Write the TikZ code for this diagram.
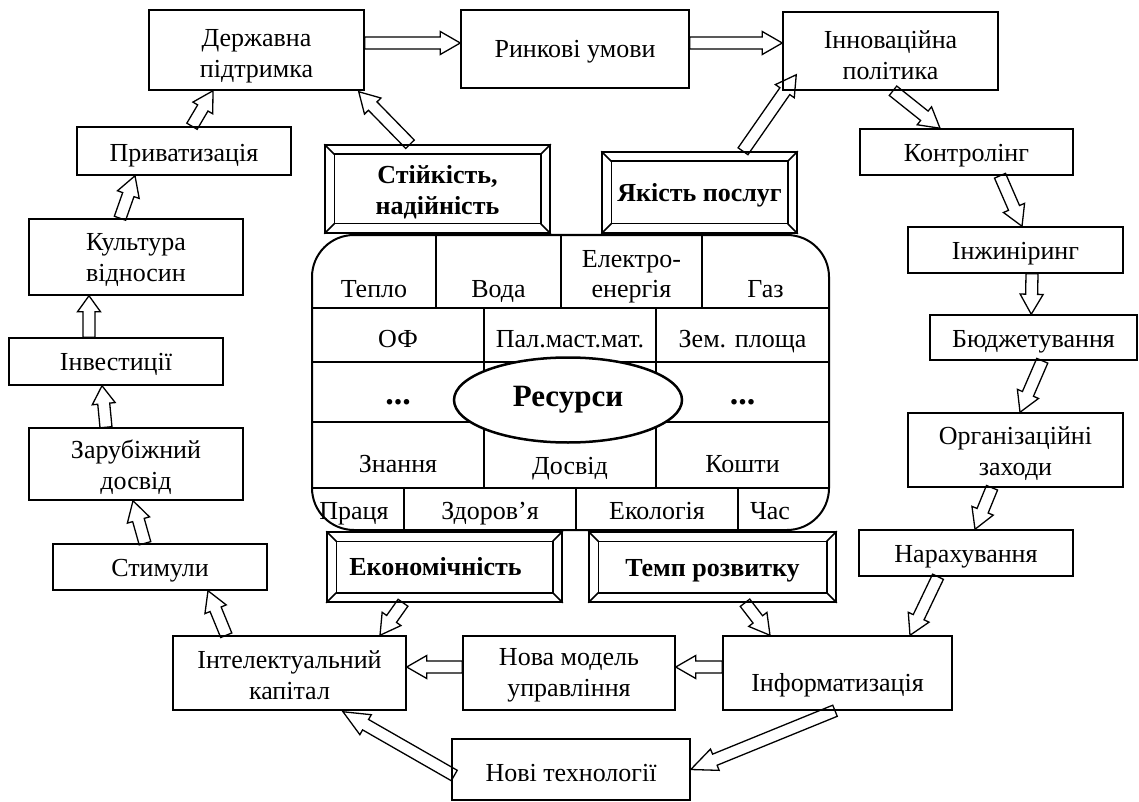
\documentclass[tikz,border=0pt]{standalone}
\usepackage{fontspec}
\setmainfont{Liberation Serif}
\usetikzlibrary{calc,shapes.geometric}
\tikzset{
 box/.style={draw, line width=1.5pt, inner sep=0pt},
 txt/.style={inner sep=0pt, align=center, font=\fontsize{26}{31}\selectfont},
 btxt/.style={inner sep=0pt, align=center, font=\fontsize{26}{31}\selectfont\bfseries},
 bl/.style={line width=1.5pt},
 arr/.style={line width=1.3pt, line join=miter},
 cell/.style={inner sep=0pt, anchor=base, font=\fontsize{26}{31}\selectfont},
 dots/.style={inner sep=0pt, anchor=base, font=\fontsize{34}{38}\selectfont\bfseries},
 gridline/.style={line width=1.5pt},
}
\def\hAsw{6pt}
\def\hAhw{11.5pt}
\newcommand\harrow[3][20pt]{%
  \path (#2) coordinate (hA) (#3) coordinate (hB);
  \draw[arr] ($(hA)!\hAsw!90:(hB)$)
   -- ($(hB)!#1!(hA)!\hAsw!-90:(hA)$)
   -- ($(hB)!#1!(hA)!\hAhw!-90:(hA)$)
   -- (hB)
   -- ($(hB)!#1!(hA)!\hAhw!90:(hA)$)
   -- ($(hB)!#1!(hA)!\hAsw!90:(hA)$)
   -- ($(hA)!\hAsw!-90:(hB)$) -- cycle;}
\newcommand\bevel[1]{%
 \draw[bl] ([shift={(10pt,-10pt)}]#1.north west) rectangle ([shift={(-10pt,10pt)}]#1.south east);
 \draw[bl] (#1.north west) -- ([shift={(10pt,-10pt)}]#1.north west)
   (#1.north east) -- ([shift={(-10pt,-10pt)}]#1.north east)
   (#1.south west) -- ([shift={(10pt,10pt)}]#1.south west)
   (#1.south east) -- ([shift={(-10pt,10pt)}]#1.south east);}
\begin{document}
\begin{tikzpicture}[x=1pt,y=-1pt]
\useasboundingbox (0,0) rectangle (1139,802);
% top row
\node[box,minimum width=215pt,minimum height=80pt] (dp) at (256.5,50) {};
\node[txt] (dpt) at ($(dp)+(0,6)$) {Державна\\підтримка};
\node[box,minimum width=228pt,minimum height=78pt] (ru) at (575,49) {};
\node[txt] (rut) at ($(ru)+(0,3)$) {Ринкові умови};
\node[box,minimum width=215pt,minimum height=78pt] (ip) at (890.5,51) {};
\node[txt] (ipt) at ($(ip)+(0,4)$) {Інноваційна\\політика};
% left column
\node[box,minimum width=214pt,minimum height=48pt] (pr) at (184,151) {};
\node[txt] (prt) at ($(pr)+(0,5)$) {Приватизація};
\node[box,minimum width=214pt,minimum height=76pt] (ku) at (136,257) {};
\node[txt] (kut) at ($(ku)+(0,3)$) {Культура\\відносин};
\node[box,minimum width=214pt,minimum height=47pt] (iv) at (116,361.5) {};
\node[txt] (ivt) at ($(iv)+(0,3)$) {Інвестиції};
\node[box,minimum width=214pt,minimum height=72pt] (zd) at (136,464) {};
\node[txt] (zdt) at ($(zd)+(0,3)$) {Зарубіжний\\досвід};
\node[box,minimum width=214pt,minimum height=46pt] (st) at (160,567) {};
\node[txt] (stt) at ($(st)+(0,4)$) {Стимули};
% bottom row
\node[box,minimum width=233pt,minimum height=74pt] (ik) at (289.5,673) {};
\node[txt] (ikt) at ($(ik)+(0,2)$) {Інтелектуальний\\капітал};
\node[box,minimum width=212pt,minimum height=74pt] (nm) at (569,673) {};
\node[txt] (nmt) at ($(nm)+(0,2)$) {Нова модель\\управління};
\node[box,minimum width=229pt,minimum height=74pt] (inf) at (837.5,673) {};
\node[txt] (inft) at ($(inf)+(0,12)$) {Інформатизація};
\node[box,minimum width=238pt,minimum height=61pt] (nt) at (571,769.5) {};
\node[txt] (ntt) at ($(nt)+(0,4)$) {Нові технології};
% right column
\node[box,minimum width=213pt,minimum height=46pt] (ko) at (966.5,152) {};
\node[txt] (kot) at ($(ko)+(0,4)$) {Контролінг};
\node[box,minimum width=215pt,minimum height=46pt] (ig) at (1015.5,250) {};
\node[txt] (igt) at ($(ig)+(0,4)$) {Інжиніринг};
\node[box,minimum width=207pt,minimum height=45pt] (bu) at (1033.5,337.5) {};
\node[txt] (but) at ($(bu)+(0,4)$) {Бюджетування};
\node[box,minimum width=215pt,minimum height=74pt] (oz) at (1015.5,450) {};
\node[txt] (ozt) at ($(oz)+(0,4)$) {Організаційні\\заходи};
\node[box,minimum width=214pt,minimum height=46pt] (na) at (966,553) {};
\node[txt] (nat) at ($(na)+(0,4)$) {Нарахування};
% bevelled boxes
\node[box,minimum width=225pt,minimum height=88pt] (sn) at (437.5,189) {};
\node[btxt] (snt) at ($(sn)+(0,3)$) {Стійкість,\\надійність};
\node[box,minimum width=195pt,minimum height=81pt] (yp) at (699.5,192.5) {};
\node[btxt] (ypt) at ($(yp)+(0,3)$) {Якість послуг};
\node[box,minimum width=235pt,minimum height=70pt] (ek) at (444.5,567) {};
\node[btxt] (ekt) at ($(ek)+(-9,0)$) {Економічність};
\node[box,minimum width=247pt,minimum height=70pt] (tr) at (712.5,567) {};
\node[btxt] (trt) at ($(tr)+(0,4)$) {Темп розвитку};
\bevel{sn}\bevel{yp}\bevel{ek}\bevel{tr}
% central table
\draw[line width=2pt, rounded corners=42pt] (312,235) rectangle (829,530);
\draw[gridline] (312,308) -- (829,308) (312,362) -- (829,362) (312,422) -- (829,422) (312,488) -- (829,488);
\draw[gridline] (436,235) -- (436,308) (561,235) -- (561,308) (702,235) -- (702,308)
  (484,308) -- (484,488) (656,308) -- (656,488)
  (404,488) -- (404,530) (576,488) -- (576,530) (738,488) -- (738,530);
\node[draw, ellipse, fill=white, line width=2.5pt, minimum width=228pt, minimum height=85pt, inner sep=0pt] (res) at (568,400) {\fontsize{31}{35}\selectfont\bfseries Ресурси};
\node[cell] (c1) at (374,297) {Тепло};
\node[cell] (c2) at (498.5,297) {Вода};
\node[cell] (c3a) at (631.5,267) {Електро-};
\node[cell] (c3b) at (631.5,297) {енергія};
\node[cell] (c4) at (765.5,297) {Газ};
\node[cell] (c5) at (398,347) {ОФ};
\node[cell] (c6) at (570,347) {Пал.маст.мат.};
\node[cell] (c7) at (742.5,347) {Зем. площа};
\node[dots] (c8) at (398,404) {...};
\node[dots] (c9) at (742.5,404) {...};
\node[cell] (c10) at (398,472) {Знання};
\node[cell] (c11) at (570,474) {Досвід};
\node[cell] (c12) at (742.5,472) {Кошти};
\node[cell] (c13) at (354,519) {Праця};
\node[cell] (c14) at (490,519) {Здоров’я};
\node[cell] (c15) at (657,519) {Екологія};
\node[cell] (c16) at (770,519) {Час};
% arrows
\harrow{$(dp.east)+(0,-7)$}{$(ru.west)+(0,-6)$}
\harrow{$(ru.east)+(0,-6)$}{$(ip.west)+(0,-8)$}
\harrow{$(pr.north)+(8,0)$}{$(dp.south)+(-43.5,0)$}
\harrow{$(sn.north)+(-27.5,0)$}{$(dp.south east)+(-6,1)$}
\harrow{$(yp.north)+(43.5,0)$}{$(ip.south west)+(14,-16)$}
\harrow{$(ip.south)+(2.5,0)$}{$(ko.north)+(-26.5,0)$}
\harrow{$(ko.south)+(33.5,0)$}{$(ig.north)+(6.5,0)$}
\harrow{$(ig.south)+(16.5,0)$}{$(bu.north west)+(102,0)$}
\harrow{$(bu.south west)+(113,0)$}{$(oz.north)+(4.5,0)$}
\harrow{$(oz.south)+(-23.5,0)$}{$(na.north)+(9,0)$}
\harrow{$(na.south)+(-28,0)$}{$(inf.north)+(72.5,0)$}
\harrow{$(tr.south)+(32.5,0)$}{$(inf.north)+(-67.5,0)$}
\harrow{$(inf.west)+(0,-6)$}{$(nm.east)+(0,-6)$}
\harrow{$(nm.west)+(0,-6)$}{$(ik.east)+(0,-6)$}
\harrow[26pt]{$(inf.south)+(-2.5,0)$}{nt.east}
\harrow[26pt]{$(nt.west)+(3,6)$}{$(ik.south)+(53.5,1)$}
\harrow{$(ek.south)+(-41.5,0)$}{$(ik.north)+(90.5,0)$}
\harrow{$(ik.north west)+(54,0)$}{$(st.south)+(48,0)$}
\harrow{$(st.north)+(-15,0)$}{$(zd.south)+(-3,0)$}
\harrow[18pt]{$(zd.north)+(-30,0)$}{$(iv.south)+(-14,0)$}
\harrow[16pt]{$(iv.north)+(-27,0)$}{$(ku.south)+(-47,0)$}
\harrow{$(ku.north)+(-16,0)$}{$(pr.south)+(-49,0)$}
\end{tikzpicture}
\end{document}
